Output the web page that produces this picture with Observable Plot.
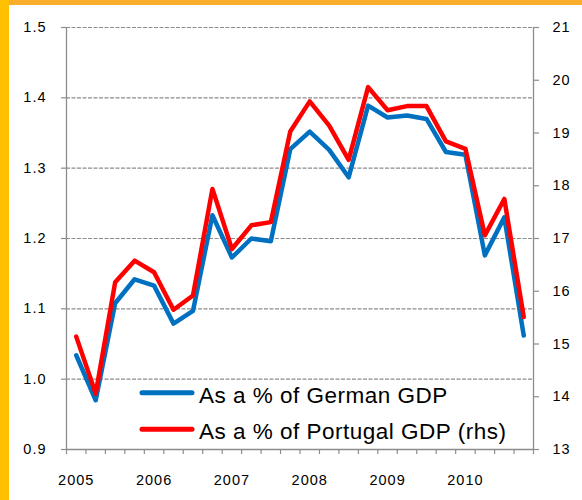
<!DOCTYPE html>
<html>
<head>
<meta charset="utf-8">
<script src="https://cdn.jsdelivr.net/npm/d3@7"></script>
<script src="https://cdn.jsdelivr.net/npm/@observablehq/plot@0.6"></script>
<style>
  html, body { margin: 0; padding: 0; background: #fff; }
  #wrap { position: relative; width: 582px; height: 500px; overflow: hidden; font-family: "Liberation Sans", Arial, sans-serif; background: #fff; }
  #bandTop { position: absolute; left: 0; top: 0; width: 582px; height: 5px; background: #F9AE2B; }
  #bandLeft { position: absolute; left: 0; top: 0; width: 9px; height: 500px; background: #FFC000; }
  #chart { position: absolute; left: 0; top: 0; }
  #legend { position: absolute; left: 0; top: 0; pointer-events: none; }
  #legend text { font-family: "Liberation Sans", Arial, sans-serif; font-size: 22.5px; letter-spacing: 0.5px; fill: #000; }
</style>
</head>
<body>
<div id="wrap">
  <div id="chart"></div>
  <div id="bandTop"></div>
  <div id="bandLeft"></div>
  <svg id="legend" width="582" height="500"></svg>
</div>
<script>
// Quarterly data, 2005Q1 - 2010Q4
const quarters = ["2005Q1","2005Q2","2005Q3","2005Q4","2006Q1","2006Q2","2006Q3","2006Q4",
                  "2007Q1","2007Q2","2007Q3","2007Q4","2008Q1","2008Q2","2008Q3","2008Q4",
                  "2009Q1","2009Q2","2009Q3","2009Q4","2010Q1","2010Q2","2010Q3","2010Q4"];
// As a % of German GDP (left axis)
const german = [1.034, 0.970, 1.108, 1.142, 1.133, 1.079, 1.097, 1.233,
                1.173, 1.200, 1.196, 1.327, 1.352, 1.326, 1.287, 1.389,
                1.372, 1.375, 1.370, 1.323, 1.319, 1.176, 1.230, 1.062];
// As a % of Portugal GDP (right axis)
const portugal = [15.14, 14.06, 16.17, 16.58, 16.36, 15.65, 15.92, 17.94,
                  16.80, 17.25, 17.31, 19.03, 19.60, 19.14, 18.49, 19.87,
                  19.43, 19.51, 19.51, 18.84, 18.70, 17.06, 17.75, 15.51];
const leftTicks = [0.9, 1.0, 1.1, 1.2, 1.3, 1.4, 1.5];
const rightTicks = [13, 14, 15, 16, 17, 18, 19, 20, 21];
const yearLabels = ["2005", "2006", "2007", "2008", "2009", "2010"];
const seriesNames = ["As a % of German GDP", "As a % of Portugal GDP (rhs)"];
const seriesColors = ["#0070C0", "#FF0000"];

const rows = quarters.map((q, i) => ({ i, q, german: german[i], portugal: portugal[i] }));
const L0 = leftTicks[0], L1 = leftTicks[leftTicks.length - 1];
const R0 = rightTicks[0], R1 = rightTicks[rightTicks.length - 1];
const toLeft = v => L0 + (v - R0) * (L1 - L0) / (R1 - R0);
const fromLeft = y => R0 + (y - L0) * (R1 - R0) / (L1 - L0);

const n = quarters.length;
const boundaries = d3.range(n + 1).map(k => k - 0.5);
const yearIdx = yearLabels.map((y, k) => k * 4);
const axisGray = "#8c8c8c";

const chart = Plot.plot({
  width: 582,
  height: 500,
  marginLeft: 66,
  marginRight: 49,
  marginTop: 27,
  marginBottom: 51,
  style: { fontFamily: '"Liberation Sans", Arial, sans-serif', fontSize: "14.5px", color: "#000", background: "transparent", letterSpacing: "1px" },
  x: { type: "linear", domain: [-0.5, n - 0.5] },
  y: { domain: [L0, L1] },
  marks: [
    Plot.ruleY(leftTicks.slice(1), { stroke: axisGray, strokeWidth: 1.2, strokeDasharray: "4,1.5" }),
    Plot.ruleX([-0.5, n - 0.5], { stroke: axisGray, strokeWidth: 1.3 }),
    Plot.ruleY([L0], { stroke: axisGray, strokeWidth: 1.3 }),
    Plot.axisY({ anchor: "left", ticks: leftTicks, tickFormat: d => d.toFixed(1), tickSize: 5, tickPadding: 15, stroke: axisGray, strokeWidth: 1.2, fill: "#000", label: null }),
    Plot.axisY({ anchor: "right", ticks: rightTicks.map(toLeft), tickFormat: d => String(Math.round(fromLeft(d))), tickSize: 5, tickPadding: 14, stroke: axisGray, strokeWidth: 1.2, fill: "#000", label: null }),
    Plot.axisX({ ticks: boundaries, tickFormat: () => "", tickSize: 5, stroke: axisGray, strokeWidth: 1.2, label: null }),
    Plot.axisX({ ticks: yearIdx, tickFormat: d => yearLabels[Math.round(d / 4)], tickSize: 0, tickPadding: 25, fill: "#000", label: null }),
    Plot.line(rows, { x: "i", y: "german", stroke: seriesColors[0], strokeWidth: 4.5 }),
    Plot.line(rows, { x: "i", y: d => toLeft(d.portugal), stroke: seriesColors[1], strokeWidth: 4.5 })
  ]
});
document.getElementById("chart").appendChild(chart);

// Legend (inside the plot area, bottom left)
const lg = d3.select("#legend");
const legendItems = [
  { name: seriesNames[0], color: seriesColors[0], ly: 392.7, ty: 403 },
  { name: seriesNames[1], color: seriesColors[1], ly: 429.3, ty: 439 }
];
legendItems.forEach(it => {
  lg.append("line").attr("x1", 142).attr("x2", 192).attr("y1", it.ly).attr("y2", it.ly)
    .attr("stroke", it.color).attr("stroke-width", 5).attr("stroke-linecap", "round");
  lg.append("text").attr("x", 199).attr("y", it.ty).text(it.name);
});
</script>
</body>
</html>
